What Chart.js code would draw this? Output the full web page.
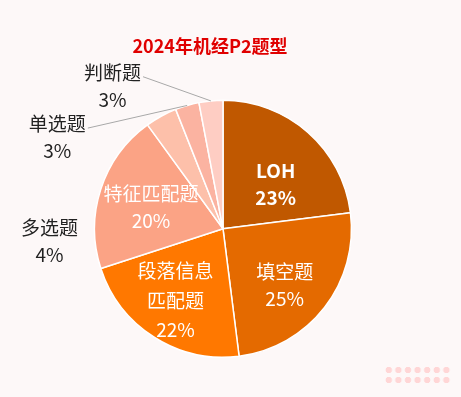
<!DOCTYPE html>
<html>
<head>
<meta charset="utf-8">
<script src="https://cdn.jsdelivr.net/npm/chart.js@4.4.1/dist/chart.umd.min.js"></script>
<style>
  html, body { margin: 0; padding: 0; background: #fdf8f8; }
  #wrap { position: relative; width: 461px; height: 397px; }
  #dots {
    position: absolute; left: 384px; top: 365px; width: 67px; height: 20px;
    background-image: radial-gradient(circle, #ffd6d6 3px, transparent 3.5px);
    background-size: 9.6px 10px;
  }
</style>
</head>
<body>
<div id="wrap">
  <canvas id="pieChart" width="461" height="397"></canvas>
  <div id="dots"></div>
</div>
<script>
const titleText = '2024年机经P2题型';
const categories = ['LOH', '填空题', '段落信息匹配题', '特征匹配题', '多选题', '单选题', '判断题'];
const shares = [23, 25, 22, 20, 4, 3, 3];
const sliceColors = ['#c05800', '#e46a00', '#ff7800', '#fba385', '#fdc0aa', '#fbb3a1', '#fecdc3'];

// label text lines per slice (category name may wrap)
const labelLines = [
  ['LOH'],
  ['填空题'],
  ['段落信息', '匹配题'],
  ['特征匹配题'],
  ['多选题'],
  ['单选题'],
  ['判断题']
];

// where each label sits, relative to pie centre in units of radius
const labelSpots = [
  { x: 0.41, y: -0.35, color: '#fff', bold: true },
  { x: 0.48, y: 0.44, color: '#fff' },
  { x: -0.37, y: 0.56, color: '#fff', gap: 29.5 },
  { x: -0.56, y: -0.17, color: '#fff' },
  { x: -1.35, y: 0.10, color: '#222' },
  { x: -1.29, y: -0.71, color: '#222', leader: true },
  { x: -0.86, y: -1.11, color: '#222', leader: true }
];

const sliceLabels = {
  id: 'sliceLabels',
  afterLayout(chart) {
    // nudge the title a little left of the pie centre
    if (chart.titleBlock) {
      chart.titleBlock.left -= 13;
      chart.titleBlock.right -= 13;
    }
  },
  afterDatasetsDraw(chart) {
    const ctx = chart.ctx;
    const arcs = chart.getDatasetMeta(0).data;
    if (!arcs.length) return;
    const cx = arcs[0].x, cy = arcs[0].y, r = arcs[0].outerRadius;
    ctx.save();
    ctx.textAlign = 'center';
    ctx.textBaseline = 'middle';
    arcs.forEach((arc, i) => {
      const spot = labelSpots[i];
      const lines = labelLines[i].concat([shares[i] + '%']);
      const gap = spot.gap || 27;
      const bx = cx + spot.x * r;
      const by = cy + spot.y * r - gap * (lines.length - 1) / 2;
      ctx.font = (spot.bold ? 'bold ' : '') + '19px "Noto Sans CJK SC", "Noto Sans", sans-serif';
      ctx.fillStyle = spot.color;
      lines.forEach((t, k) => ctx.fillText(t, bx, by + k * gap));
      if (spot.leader) {
        const w = ctx.measureText(lines[0]).width;
        const mid = (arc.startAngle + arc.endAngle) / 2;
        ctx.beginPath();
        ctx.strokeStyle = '#a8a8a8';
        ctx.lineWidth = 1;
        ctx.moveTo(bx + w / 2 + 2, by + 4);
        ctx.lineTo(cx + Math.cos(mid) * r, cy + Math.sin(mid) * r);
        ctx.stroke();
      }
    });
    ctx.restore();
  }
};

new Chart(document.getElementById('pieChart').getContext('2d'), {
  type: 'pie',
  data: {
    labels: categories,
    datasets: [{
      data: shares,
      backgroundColor: sliceColors,
      borderColor: '#ffffff',
      borderWidth: 1.5
    }]
  },
  options: {
    responsive: false,
    animation: false,
    layout: { padding: { top: 0, left: 0, right: 15, bottom: 39 } },
    plugins: {
      legend: { display: false },
      tooltip: { enabled: false },
      title: {
        display: true,
        text: titleText,
        color: '#e00000',
        font: { size: 18, weight: 'bold', family: '"Noto Sans CJK SC", "Noto Sans", sans-serif' },
        padding: { top: 35, bottom: 43 }
      }
    }
  },
  plugins: [sliceLabels]
});
</script>
</body>
</html>
